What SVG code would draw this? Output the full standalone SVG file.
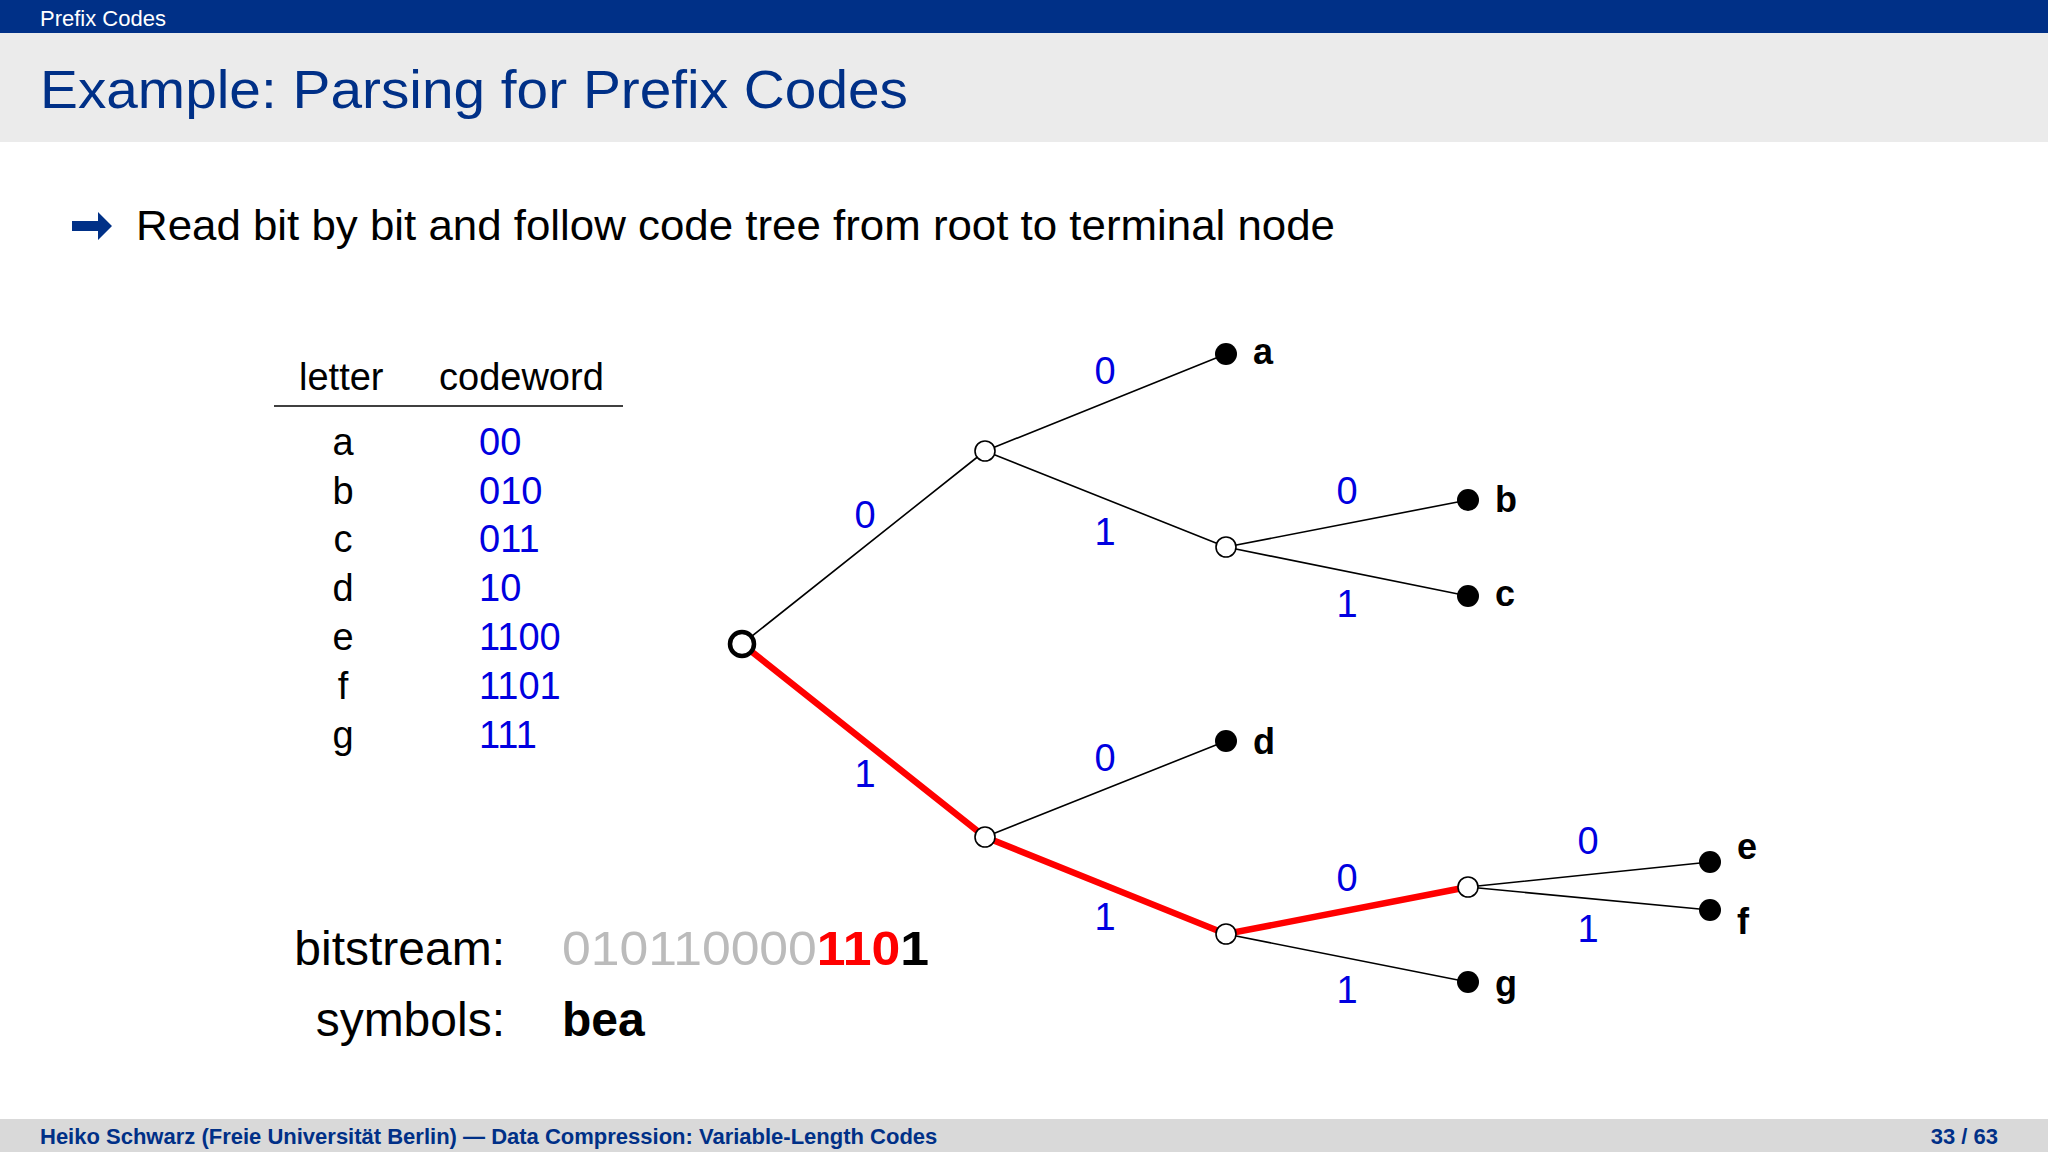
<svg xmlns="http://www.w3.org/2000/svg" width="2048" height="1152" viewBox="0 0 2048 1152">
<style>
text{font-family:"Liberation Sans",Arial,sans-serif}
.e{stroke:#000;stroke-width:1.6;fill:none}
.r{stroke:#f00;stroke-width:6.5;fill:none;stroke-linecap:round}
.o{fill:#fff;stroke:#000;stroke-width:1.6}
.f{fill:#000}
.bl{fill:#0000e0;font-size:38px;text-anchor:middle}
.lf{font-size:36px;font-weight:bold}
.tb{font-size:38px}
</style>
<rect width="2048" height="1152" fill="#fff"/>
<rect width="2048" height="33" fill="#003087"/>
<rect y="33" width="2048" height="109" fill="#ebebeb"/>
<text x="40" y="26" font-size="22" fill="#fff">Prefix Codes</text>
<text x="40" y="108" font-size="53" fill="#003087" textLength="868" lengthAdjust="spacingAndGlyphs">Example: Parsing for Prefix Codes</text>
<path d="M72 221h26v-9l14 14-14 14v-9h-26z" fill="#003087"/>
<text x="136" y="240" font-size="42" textLength="1199" lengthAdjust="spacingAndGlyphs">Read bit by bit and follow code tree from root to terminal node</text>
<g id="table">
<text x="299" y="390" class="tb">letter</text>
<text x="439" y="390" class="tb">codeword</text>
<line x1="274" y1="406" x2="623" y2="406" stroke="#000" stroke-width="1.6"/>
<g class="tb" text-anchor="middle"><text x="343" y="455">a</text><text x="343" y="504">b</text><text x="343" y="552">c</text><text x="343" y="601">d</text><text x="343" y="650">e</text><text x="343" y="699">f</text><text x="343" y="748">g</text></g>
<g class="tb" fill="#0000e0"><text x="479" y="455">00</text><text x="479" y="504">010</text><text x="479" y="552">011</text><text x="479" y="601">10</text><text x="479" y="650">1100</text><text x="479" y="699">1101</text><text x="479" y="748">111</text></g>
</g>
<g id="connectors">
<path class="e" d="M742 644L985 451M985 451L1226 354M985 451L1226 547M1226 547L1468 500M1226 547L1468 596M985 837L1226 741M1226 934L1468 982M1468 887L1710 862M1468 887L1710 910"/>
<path class="r" d="M742 644L985 837L1226 934L1468 887"/>
</g>
<g id="edge-labels">
<text class="bl" x="1105" y="384">0</text>
<text class="bl" x="865" y="528">0</text>
<text class="bl" x="1105" y="545">1</text>
<text class="bl" x="1347" y="504">0</text>
<text class="bl" x="1347" y="617">1</text>
<text class="bl" x="865" y="787">1</text>
<text class="bl" x="1105" y="771">0</text>
<text class="bl" x="1105" y="930">1</text>
<text class="bl" x="1347" y="891">0</text>
<text class="bl" x="1347" y="1003">1</text>
<text class="bl" x="1588" y="854">0</text>
<text class="bl" x="1588" y="942">1</text>
</g>
<g id="root"><circle cx="742" cy="644" r="12" fill="#fff" stroke="#000" stroke-width="4.5"/></g>
<g id="n0"><circle class="o" cx="985" cy="451" r="10"/></g>
<g id="n01"><circle class="o" cx="1226" cy="547" r="10"/></g>
<g id="n1"><circle class="o" cx="985" cy="837" r="10"/></g>
<g id="n11"><circle class="o" cx="1226" cy="934" r="10"/></g>
<g id="n110"><circle class="o" cx="1468" cy="887" r="10"/></g>
<g id="a"><circle class="f" cx="1226" cy="354" r="11"/><text class="lf" x="1253" y="364">a</text></g>
<g id="b"><circle class="f" cx="1468" cy="500" r="11"/><text class="lf" x="1495" y="512">b</text></g>
<g id="c"><circle class="f" cx="1468" cy="596" r="11"/><text class="lf" x="1495" y="606">c</text></g>
<g id="d"><circle class="f" cx="1226" cy="741" r="11"/><text class="lf" x="1253" y="754">d</text></g>
<g id="e"><circle class="f" cx="1710" cy="862" r="11"/><text class="lf" x="1737" y="859">e</text></g>
<g id="f"><circle class="f" cx="1710" cy="910" r="11"/><text class="lf" x="1737" y="934">f</text></g>
<g id="g"><circle class="f" cx="1468" cy="982" r="11"/><text class="lf" x="1495" y="996">g</text></g>
<text x="505" y="965" font-size="48" text-anchor="end">bitstream:</text>
<text x="505" y="1036" font-size="48" text-anchor="end">symbols:</text>
<text x="562" y="965" font-size="48" textLength="367" lengthAdjust="spacingAndGlyphs"><tspan fill="#bbb">010110000</tspan><tspan fill="#f00" font-weight="bold">110</tspan><tspan font-weight="bold">1</tspan></text>
<text x="562" y="1036" font-size="48" font-weight="bold">bea</text>
<rect y="1119" width="2048" height="33" fill="#d9d9d9"/>
<text x="40" y="1144" font-size="22" font-weight="bold" fill="#003087">Heiko Schwarz (Freie Universität Berlin) — Data Compression: Variable-Length Codes</text>
<text x="1998" y="1144" font-size="22" font-weight="bold" fill="#003087" text-anchor="end">33 / 63</text>
</svg>
